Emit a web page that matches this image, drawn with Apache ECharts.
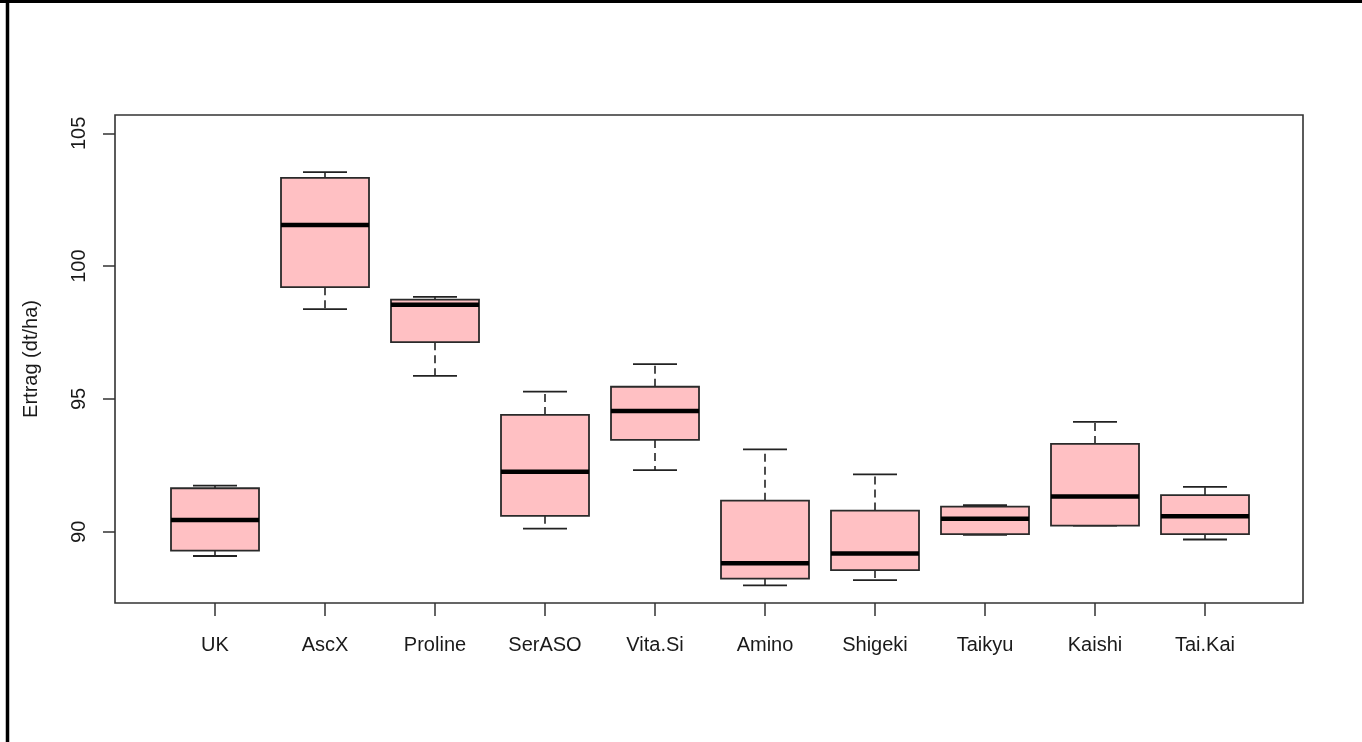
<!DOCTYPE html>
<html>
<head>
<meta charset="utf-8">
<title>Ertrag</title>
<script src="https://cdn.jsdelivr.net/npm/echarts@6/dist/echarts.min.js"></script>
<style>
  html, body { margin: 0; padding: 0; background: #fff; }
  #chart { width: 1362px; height: 742px; }
</style>
</head>
<body>
<div id="chart"></div>
<script>
// Yield per treatment (dt/ha): five-number summaries of each box
const categories = ['UK', 'AscX', 'Proline', 'SerASO', 'Vita.Si', 'Amino', 'Shigeki', 'Taikyu', 'Kaishi', 'Tai.Kai'];
const lowerWhisker  = [89.09, 98.38, 95.87, 90.12, 92.32, 87.98, 88.18, 89.89, 90.23, 89.71];
const lowerQuartile = [89.29, 99.21, 97.14, 90.60, 93.46, 88.24, 88.56, 89.91, 90.23, 89.91];
const median        = [90.44, 101.55, 98.55, 92.26, 94.55, 88.82, 89.18, 90.49, 91.33, 90.59];
const upperQuartile = [91.64, 103.32, 98.74, 94.40, 95.46, 91.17, 90.80, 90.95, 93.31, 91.38];
const upperWhisker  = [91.74, 103.54, 98.84, 95.28, 96.31, 93.10, 92.16, 91.00, 94.14, 91.69];
const yTicks = [90, 95, 100, 105];
const yTitle = 'Ertrag (dt/ha)';

const Y_MIN = 87.32, Y_MAX = 105.69;
const FONT = '"Liberation Sans", Arial, sans-serif';
const INK = '#1a1a1a';

const boxData = categories.map((c, i) => [
  i, lowerWhisker[i], lowerQuartile[i], median[i], upperQuartile[i], upperWhisker[i]
]);

function renderBox(params, api) {
  const idx = api.value(0);
  const pt = k => api.coord([idx, api.value(k)]);
  const lw = pt(1), q1 = pt(2), md = pt(3), q3 = pt(4), uw = pt(5);
  const cx = md[0];
  const bw = api.size([1, 0])[0] * 0.8;
  const cap = bw / 2;
  const dashed = { stroke: '#222', lineWidth: 1.6, lineDash: [8, 5] };
  const solid = { stroke: '#222', lineWidth: 1.8 };
  return {
    type: 'group',
    children: [
      { type: 'line', shape: { x1: cx, y1: q3[1], x2: cx, y2: uw[1] }, style: dashed },
      { type: 'line', shape: { x1: cx, y1: q1[1], x2: cx, y2: lw[1] }, style: dashed },
      { type: 'line', shape: { x1: cx - cap / 2, y1: uw[1], x2: cx + cap / 2, y2: uw[1] }, style: solid },
      { type: 'line', shape: { x1: cx - cap / 2, y1: lw[1], x2: cx + cap / 2, y2: lw[1] }, style: solid },
      {
        type: 'rect',
        shape: { x: cx - bw / 2, y: q3[1], width: bw, height: q1[1] - q3[1] },
        style: { fill: '#FFC0C3', stroke: '#2a2a2a', lineWidth: 1.8 }
      },
      { type: 'line', shape: { x1: cx - bw / 2, y1: md[1], x2: cx + bw / 2, y2: md[1] },
        style: { stroke: '#000', lineWidth: 4.5 } }
    ]
  };
}

const chart = echarts.init(document.getElementById('chart'), null, { renderer: 'canvas' });

chart.setOption({
  animation: false,
  backgroundColor: '#fff',
  grid: [
    // outer plot frame carrying the value axis
    { left: 115, top: 115, width: 1188, height: 488, show: true,
      borderColor: '#333', borderWidth: 1.6, backgroundColor: 'transparent' },
    // inner band for the ten treatments
    { left: 160, top: 115, width: 1100, height: 488 }
  ],
  xAxis: [
    { gridIndex: 0, type: 'value', min: 0, max: 1, show: false },
    {
      gridIndex: 1, type: 'category', data: categories,
      axisLine: { show: false },
      axisTick: { show: true, alignWithLabel: true, length: 13, inside: false,
                  lineStyle: { color: '#333', width: 1.5 } },
      axisLabel: { fontFamily: FONT, fontSize: 20, color: INK, margin: 32 },
      splitLine: { show: false }
    }
  ],
  yAxis: [
    {
      gridIndex: 0, type: 'value', min: Y_MIN, max: Y_MAX,
      name: yTitle, nameLocation: 'middle', nameGap: 74, nameRotate: 90,
      nameTextStyle: { fontFamily: FONT, fontSize: 20, color: INK },
      axisLine: { show: false },
      axisTick: { show: true, length: 12, inside: false, customValues: yTicks,
                  lineStyle: { color: '#333', width: 1.5 } },
      axisLabel: { fontFamily: FONT, fontSize: 20, color: INK, rotate: 90, margin: 26,
                   customValues: yTicks },
      splitLine: { show: false }
    },
    { gridIndex: 1, type: 'value', min: Y_MIN, max: Y_MAX, show: false }
  ],
  series: [
    {
      type: 'custom',
      xAxisIndex: 1, yAxisIndex: 1,
      data: boxData,
      encode: { x: 0, y: [1, 2, 3, 4, 5] },
      renderItem: renderBox,
      silent: true
    }
  ],
  graphic: [
    // heavy border along the top and left edges of the canvas
    { type: 'line', shape: { x1: 0, y1: 1.5, x2: 1362, y2: 1.5 },
      style: { stroke: '#000', lineWidth: 3 }, z: 100 },
    { type: 'line', shape: { x1: 7.5, y1: 0, x2: 7.5, y2: 742 },
      style: { stroke: '#000', lineWidth: 3.5 }, z: 100 }
  ]
});
</script>
</body>
</html>
